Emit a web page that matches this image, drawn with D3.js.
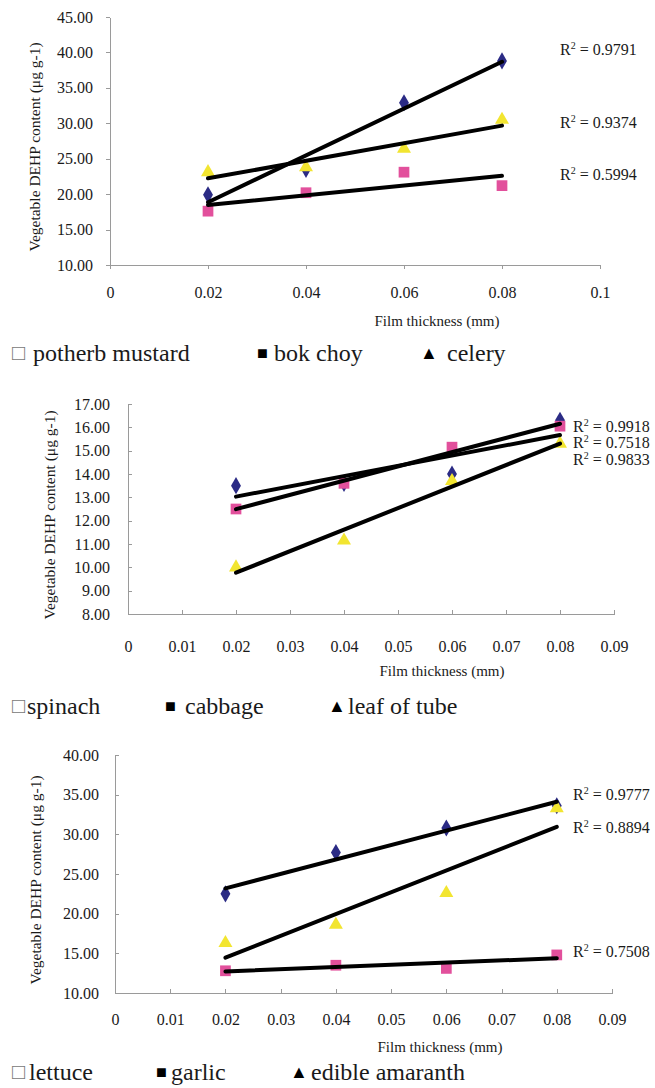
<!DOCTYPE html>
<meta charset="utf-8">
<style>
body { margin: 0; background: #fff; }
svg text { font-family: "Liberation Serif", "Times New Roman", serif; fill: #1a1a1a; }
.axis path, .axis line { stroke: #9a9a9a; stroke-width: 1px; shape-rendering: crispEdges; }
.axis text { font-size: 16px; fill: #1a1a1a; }
</style>
<script src="https://d3js.org/d3.v7.min.js"></script>
<body>
<div id="chart"></div>
<script>
// film thickness (mm) at which every vegetable was measured
var thickness = [0.02, 0.04, 0.06, 0.08];

// top chart
var namesTop = ["potherb mustard", "bok choy", "celery"];
var potherbMustard = [19.9, 23.5, 32.9, 38.8];
var bokChoy = [17.6, 20.2, 23.1, 21.2];
var celery = [23.1, 23.8, 26.4, 30.5];
var r2Top = ["0.9791", "0.5994", "0.9374"];
var xTicksTop = [0, 0.02, 0.04, 0.06, 0.08, 0.1];
var yTicksTop = [10, 15, 20, 25, 30, 35, 40, 45];

// middle chart
var namesMid = ["spinach", "cabbage", "leaf of tube"];
var spinach = [13.5, 13.6, 14.0, 16.3];
var cabbage = [12.5, 13.6, 15.15, 16.05];
var leafOfTube = [10.0, 11.15, 13.7, 15.3];
var r2Mid = ["0.7518", "0.9918", "0.9833"];
var xTicksMid = [0, 0.01, 0.02, 0.03, 0.04, 0.05, 0.06, 0.07, 0.08, 0.09];
var yTicksMid = [8, 9, 10, 11, 12, 13, 14, 15, 16, 17];

// bottom chart
var namesBot = ["lettuce", "garlic", "edible amaranth"];
var lettuce = [22.5, 27.7, 30.8, 33.6];
var garlic = [12.8, 13.5, 13.1, 14.8];
var edibleAmaranth = [16.3, 18.6, 22.6, 33.3];
var r2Bot = ["0.9777", "0.7508", "0.8894"];
var xTicksBot = [0, 0.01, 0.02, 0.03, 0.04, 0.05, 0.06, 0.07, 0.08, 0.09];
var yTicksBot = [10, 15, 20, 25, 30, 35, 40];

var colors = ["#2b2b85", "#e2509c", "#f2e530"];
var shapes = [d3.symbolDiamond, d3.symbolSquare, d3.symbolTriangle];
var glyphs = ["\u25A1", "\u25A0", "\u25B2"];

var serif = "'Liberation Serif', 'Times New Roman', serif";

var svg = d3.select("#chart").append("svg")
    .attr("width", 655)
    .attr("height", 1088)
    .style("font-family", serif);

var panels = [
  { names: namesTop, series: [potherbMustard, bokChoy, celery], r2: r2Top,
    xTicks: xTicksTop, yTicks: yTicksTop,
    left: 110, right: 600, top: 17, bottom: 265, tick: 4, yPad: 13, xPad: 18,
    titleX: 35, xTitleX: 437, xTitleY: 326,
    r2X: 560, r2Y: [55, 180, 128],
    legendY: 361, legendSym: [12, 257, 420], legendTxt: [33, 274, 447] },
  { names: namesMid, series: [spinach, cabbage, leafOfTube], r2: r2Mid,
    xTicks: xTicksMid, yTicks: yTicksMid,
    left: 128, right: 614, top: 404, bottom: 614, tick: -4, yPad: 18, xPad: 27,
    titleX: 50, xTitleX: 442, xTitleY: 676,
    r2X: 573, r2Y: [448, 432, 465],
    legendY: 714, legendSym: [12, 165, 328], legendTxt: [27, 185, 348] },
  { names: namesBot, series: [lettuce, garlic, edibleAmaranth], r2: r2Bot,
    xTicks: xTicksBot, yTicks: yTicksBot,
    left: 115, right: 612, top: 755, bottom: 993, tick: -4, yPad: 16, xPad: 21,
    titleX: 36, xTitleX: 440, xTitleY: 1052,
    r2X: 573, r2Y: [800, 957, 833],
    legendY: 1080, legendSym: [12, 156, 290], legendTxt: [29, 171, 311] }
];

function fit(xs, ys) {
  var mx = d3.mean(xs), my = d3.mean(ys);
  var sxy = d3.sum(xs, function(d, i) { return (d - mx) * (ys[i] - my); });
  var sxx = d3.sum(xs, function(d) { return (d - mx) * (d - mx); });
  var b = sxy / sxx;
  return function(v) { return my + b * (v - mx); };
}

panels.forEach(function(p) {
  var x = d3.scaleLinear()
      .domain([p.xTicks[0], p.xTicks[p.xTicks.length - 1]])
      .range([p.left, p.right]);
  var y = d3.scaleLinear()
      .domain([p.yTicks[0], p.yTicks[p.yTicks.length - 1]])
      .range([p.bottom, p.top]);

  svg.append("g")
      .attr("class", "axis")
      .attr("transform", "translate(0," + p.bottom + ")")
      .call(d3.axisBottom(x)
          .tickValues(p.xTicks)
          .tickSizeInner(p.tick)
          .tickSizeOuter(0)
          .tickPadding(p.xPad)
          .tickFormat(function(d) { return String(+d.toFixed(2)); }))
      .attr("font-family", serif)
      .attr("font-size", 16);

  svg.append("g")
      .attr("class", "axis")
      .attr("transform", "translate(" + p.left + ",0)")
      .call(d3.axisLeft(y)
          .tickValues(p.yTicks)
          .tickSizeInner(p.tick)
          .tickSizeOuter(0)
          .tickPadding(p.yPad)
          .tickFormat(d3.format(".2f")))
      .attr("font-family", serif)
      .attr("font-size", 16);

  // markers
  p.series.forEach(function(vals, s) {
    svg.append("g").selectAll("path")
      .data(vals)
      .enter().append("path")
        .attr("transform", function(d, i) { return "translate(" + x(thickness[i]) + "," + y(d) + ")"; })
        .attr("d", d3.symbol().type(shapes[s]).size(s == 1 ? 115 : 85))
        .attr("fill", colors[s]);
  });

  // linear trend lines
  p.series.forEach(function(vals, s) {
    var f = fit(thickness, vals);
    var x0 = thickness[0], x1 = thickness[thickness.length - 1];
    svg.append("line")
        .attr("x1", x(x0)).attr("y1", y(f(x0)))
        .attr("x2", x(x1)).attr("y2", y(f(x1)))
        .attr("stroke", "#000")
        .attr("stroke-width", 4)
        .attr("stroke-linecap", "round");

    var t = svg.append("text")
        .attr("x", p.r2X)
        .attr("y", p.r2Y[s])
        .style("font-size", "16px");
    t.append("tspan").text("R");
    t.append("tspan").attr("dy", -6).style("font-size", "10px").text("2");
    t.append("tspan").attr("dy", 6).text(" = " + p.r2[s]);
  });

  svg.append("text")
      .attr("transform", "translate(" + p.titleX + "," + ((p.top + p.bottom) / 2 + 6) + ") rotate(-90)")
      .attr("text-anchor", "middle")
      .attr("dy", "0.35em")
      .style("font-size", "15.5px")
      .text("Vegetable DEHP content (\u03bcg g-1)");

  svg.append("text")
      .attr("x", p.xTitleX)
      .attr("y", p.xTitleY)
      .attr("text-anchor", "middle")
      .style("font-size", "15px")
      .text("Film thickness (mm)");

  // legend
  p.names.forEach(function(n, s) {
    svg.append("text")
        .attr("x", p.legendSym[s])
        .attr("y", p.legendY - (s == 0 ? 1 : 2))
        .style("font-size", s == 0 ? "22px" : "18px")
        .style("fill", s == 0 ? "#777" : "#000")
        .text(glyphs[s]);
    svg.append("text")
        .attr("x", p.legendTxt[s])
        .attr("y", p.legendY)
        .style("font-size", "24px")
        .text(n);
  });
});
</script>
</body>
